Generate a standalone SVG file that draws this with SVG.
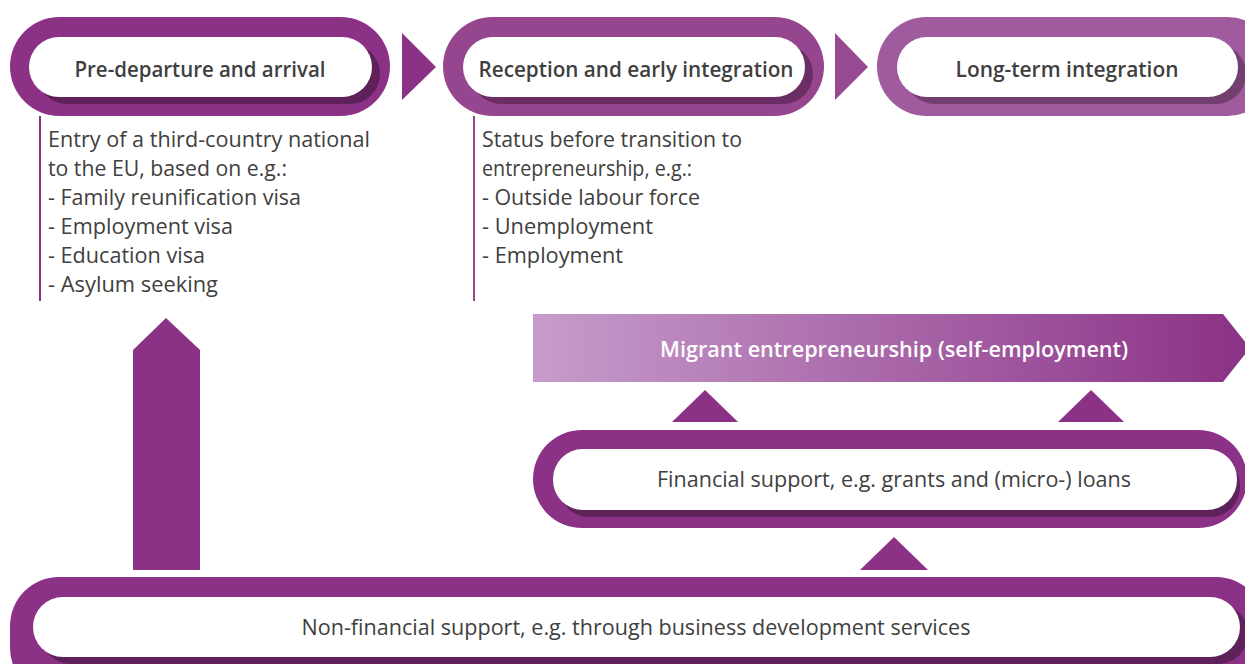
<svg xmlns="http://www.w3.org/2000/svg" width="1245" height="664" viewBox="0 0 1245 664">
<defs>
<linearGradient id="bannerGrad" x1="0" y1="0" x2="1" y2="0">
<stop offset="0" stop-color="#c69ccb"/>
<stop offset="1" stop-color="#8b3186"/>
</linearGradient>
<style>
.title{font-family:"Open Sans","Liberation Sans",sans-serif;font-weight:600;font-size:22px;fill:#404040;text-anchor:middle}
.body{font-family:"Open Sans","Liberation Sans",sans-serif;font-size:22px;fill:#404040}
.label{font-family:"Open Sans","Liberation Sans",sans-serif;font-size:22px;fill:#404040;text-anchor:middle}
.banner{font-family:"Open Sans","Liberation Sans",sans-serif;font-weight:600;font-size:22px;fill:#ffffff;text-anchor:middle}
.inner{fill:#ffffff}
.tri{fill:#8b3186}
</style>
</defs>
<rect width="1245" height="664" fill="#ffffff"/>

<g id="connectors">
<polygon class="tri" points="402,33 436,67 402,100"/>
<polygon points="835,33 868,67 835,100" fill="#974a92"/>
<line x1="40" y1="116" x2="40" y2="301" stroke="#8b3186" stroke-width="2"/>
<line x1="474" y1="116" x2="474" y2="301" stroke="#95468f" stroke-width="2"/>
<polygon class="tri" points="166,318 200,350 200,570 133,570 133,350"/>
<polygon class="tri" points="705,390 738,422 672,422"/>
<polygon class="tri" points="1091,390 1124,422 1058,422"/>
<polygon class="tri" points="894,537 928,570 860,570"/>
</g>

<g id="node-predeparture">
<rect x="10" y="17" width="380" height="99" rx="49.5" fill="#8b3186"/>
<rect x="37" y="44" width="343" height="60" rx="30" fill="#5f2159"/>
<rect class="inner" x="29" y="37" width="343" height="60" rx="30"/>
<text class="title" x="200" y="77" textLength="251" lengthAdjust="spacingAndGlyphs">Pre-departure and arrival</text>
</g>

<g id="node-reception">
<rect x="443" y="17" width="381" height="99" rx="49.5" fill="#95468f"/>
<rect x="471" y="44" width="342" height="60" rx="30" fill="#6a2e64"/>
<rect class="inner" x="463" y="37" width="342" height="60" rx="30"/>
<text class="title" x="636" y="77" textLength="315" lengthAdjust="spacingAndGlyphs">Reception and early integration</text>
</g>

<g id="node-longterm">
<rect x="877" y="17" width="400" height="99" rx="49.5" fill="#a05b9f"/>
<rect x="905" y="44" width="341" height="60" rx="30" fill="#733f70"/>
<rect class="inner" x="897" y="37" width="341" height="60" rx="30"/>
<text class="title" x="1067" y="77" textLength="223" lengthAdjust="spacingAndGlyphs">Long-term integration</text>
</g>

<g id="text-entry">
<text class="body" x="48" y="147" textLength="322" lengthAdjust="spacingAndGlyphs">Entry of a third-country national</text>
<text class="body" x="48" y="176" textLength="239" lengthAdjust="spacingAndGlyphs">to the EU, based on e.g.:</text>
<text class="body" x="48" y="205" textLength="253" lengthAdjust="spacingAndGlyphs">- Family reunification visa</text>
<text class="body" x="48" y="234" textLength="185" lengthAdjust="spacingAndGlyphs">- Employment visa</text>
<text class="body" x="48" y="263" textLength="157" lengthAdjust="spacingAndGlyphs">- Education visa</text>
<text class="body" x="48" y="292" textLength="170" lengthAdjust="spacingAndGlyphs">- Asylum seeking</text>
</g>

<g id="text-status">
<text class="body" x="482" y="147" textLength="260" lengthAdjust="spacingAndGlyphs">Status before transition to</text>
<text class="body" x="482" y="176" textLength="210" lengthAdjust="spacingAndGlyphs">entrepreneurship, e.g.:</text>
<text class="body" x="482" y="205" textLength="218" lengthAdjust="spacingAndGlyphs">- Outside labour force</text>
<text class="body" x="482" y="234" textLength="171" lengthAdjust="spacingAndGlyphs">- Unemployment</text>
<text class="body" x="482" y="263" textLength="141" lengthAdjust="spacingAndGlyphs">- Employment</text>
</g>

<g id="node-migrant">
<polygon points="533,314 1223,314 1250,348 1223,382 533,382" fill="url(#bannerGrad)"/>
<text class="banner" x="894" y="357" textLength="468" lengthAdjust="spacingAndGlyphs">Migrant entrepreneurship (self-employment)</text>
</g>

<g id="node-financial">
<rect x="533" y="430" width="714" height="98" rx="49" fill="#8b3186"/>
<rect x="559" y="456" width="681" height="61" rx="30" fill="#5f2159"/>
<rect class="inner" x="553" y="449" width="684" height="61" rx="30"/>
<text class="label" x="894" y="487" textLength="474" lengthAdjust="spacingAndGlyphs">Financial support, e.g. grants and (micro-) loans</text>
</g>

<g id="node-nonfinancial">
<rect x="10" y="577" width="1255" height="120" rx="49" fill="#8b3186"/>
<rect x="41" y="604" width="1207" height="60" rx="30" fill="#5f2159"/>
<rect class="inner" x="33" y="597" width="1207" height="60" rx="30"/>
<text class="label" x="636" y="635" textLength="669" lengthAdjust="spacingAndGlyphs">Non-financial support, e.g. through business development services</text>
</g>
</svg>
